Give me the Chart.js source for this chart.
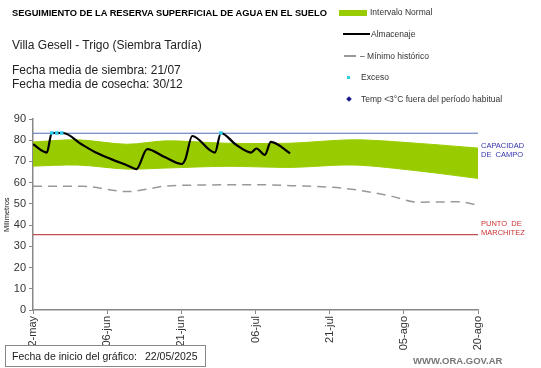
<!DOCTYPE html>
<html>
<head>
<meta charset="utf-8">
<script src="https://cdn.jsdelivr.net/npm/chart.js@4"></script>
<style>
  body { margin: 0; background: #fff; }
  #wrap { position: relative; width: 541px; height: 368px; font-family: "Liberation Sans", Arial, sans-serif; color: #222; }
  #wrap canvas { position: absolute; left: 0; top: 0; }
  .t { position: absolute; white-space: nowrap; }
</style>
</head>
<body>
<div id="wrap">
  <canvas id="chart" width="541" height="368"></canvas>
  <div class="t" style="left:12px;top:8px;font-size:9.3px;font-weight:bold;color:#000;">SEGUIMIENTO DE LA RESERVA SUPERFICIAL DE AGUA EN EL SUELO</div>
  <div class="t" style="left:12px;top:38px;font-size:12px;">Villa Gesell - Trigo (Siembra Tardía)</div>
  <div class="t" style="left:12px;top:63px;font-size:12px;line-height:14px;">Fecha media de siembra: 21/07<br>Fecha media de cosecha: 30/12</div>

  <div class="t" style="left:339px;top:10px;width:28px;height:6px;background:#99cc00;"></div>
  <div class="t" style="left:370px;top:7px;font-size:8.5px;color:#333;">Intervalo Normal</div>
  <div class="t" style="left:343px;top:33px;width:27px;height:2px;background:#000;"></div>
  <div class="t" style="left:371px;top:29px;font-size:8.5px;color:#333;">Almacenaje</div>
  <div class="t" style="left:344px;top:55px;width:12px;height:1.5px;background:#999;"></div>
  <div class="t" style="left:360px;top:51px;font-size:8.5px;color:#333;">– Mínimo histórico</div>
  <div class="t" style="left:347px;top:76px;width:3px;height:3px;background:#33ccdd;"></div>
  <div class="t" style="left:361px;top:72px;font-size:8.5px;color:#333;">Exceso</div>
  <div class="t" style="left:347px;top:97px;width:4px;height:4px;background:#1a1a8c;transform:rotate(45deg);"></div>
  <div class="t" style="left:361px;top:94px;font-size:8.5px;color:#333;">Temp &lt;3°C fuera del período habitual</div>

  <div class="t" style="left:481px;top:141px;font-size:7.5px;line-height:9px;color:#3333aa;">CAPACIDAD<br>DE&nbsp; CAMPO</div>
  <div class="t" style="left:481px;top:219px;font-size:7.5px;line-height:9px;color:#cc3333;">PUNTO&nbsp; DE<br>MARCHITEZ</div>

  <div class="t" style="left:2px;top:232px;font-size:7.5px;color:#222;transform:rotate(-90deg);transform-origin:left top;">Milímetros</div>

  <div class="t" style="left:5px;top:345px;width:199px;height:20px;border:1px solid #888;background:#fff;font-size:10.5px;line-height:20px;">
    <span style="position:absolute;left:6px;">Fecha de inicio del gráfico:</span>
    <span style="position:absolute;left:139px;">22/05/2025</span>
  </div>
  <div class="t" style="left:413px;top:355px;font-size:9.5px;font-weight:bold;color:#777;">WWW.ORA.GOV.AR</div>
</div>
<script>
// Days since 22/05/2025
const xTickLabels = ['22-may', '06-jun', '21-jun', '06-jul', '21-jul', '05-ago', '20-ago'];

const bandDays = [0, 9, 19, 27, 39, 52, 65, 78, 90];
const bandUpper = [79.2, 80.2, 78.1, 79.7, 78.6, 78.6, 80.2, 78.5, 76.3];
const bandLower = [67.8, 68.3, 66.4, 66.9, 67.7, 67.2, 68.3, 65.5, 62];

const minDays = [0, 10, 19, 28, 46, 52, 63, 72, 78, 86, 90];
const minValues = [58.3, 58.3, 55.8, 58.6, 59, 58.6, 57.3, 53.9, 50.8, 51, 49.5];

const storageDays = [0, 2.8, 3.8, 6.1, 9.8, 12.5, 15.8, 19.2, 20.9, 23.1, 26.5, 30.1, 30.8, 32.2, 36.8, 38, 41, 44.1, 45.2, 46.9, 48.1, 52];
const storageValues = [78.1, 74.2, 83.4, 83.4, 78.1, 74.5, 71.1, 68, 66.4, 75.8, 72.2, 68.8, 71, 82, 74.2, 83.4, 78, 74.2, 76.1, 73.1, 79.2, 73.8];

const excessDays = [3.8, 4.8, 5.8, 38];
const excessValues = [83.4, 83.4, 83.4, 83.4];

const fieldCapacity = 83.3;
const wiltingPoint = 35.5;

const pts = (xs, ys) => xs.map((x, i) => ({ x: x, y: ys[i] }));

new Chart(document.getElementById('chart'), {
  type: 'line',
  data: {
    datasets: [
      { data: pts(excessDays, excessValues), showLine: false, pointRadius: 2.5, pointStyle: 'rect',
        pointBackgroundColor: '#33ccee', pointBorderWidth: 0 },
      { data: pts(storageDays, storageValues), borderColor: '#000', borderWidth: 2.2, pointRadius: 0,
        cubicInterpolationMode: 'monotone' },
      { data: pts([0, 90], [fieldCapacity, fieldCapacity]), borderColor: '#4f6fb5', borderWidth: 1, pointRadius: 0 },
      { data: pts([0, 90], [wiltingPoint, wiltingPoint]), borderColor: '#c0504d', borderWidth: 1.2, pointRadius: 0 },
      { data: pts(minDays, minValues), borderColor: '#999', borderWidth: 1.5, borderDash: [9, 6], pointRadius: 0,
        cubicInterpolationMode: 'monotone' },
      { data: pts(bandDays, bandUpper), borderColor: '#99cc00', borderWidth: 1, pointRadius: 0,
        backgroundColor: '#99cc00', fill: '+1', tension: 0.3 },
      { data: pts(bandDays, bandLower), borderColor: '#99cc00', borderWidth: 1, pointRadius: 0, tension: 0.3 }
    ]
  },
  options: {
    responsive: false,
    animation: false,
    layout: { padding: { left: 0, right: 63, top: 119, bottom: 0 } },
    plugins: { legend: { display: false }, tooltip: { enabled: false } },
    scales: {
      x: {
        type: 'linear', min: 0, max: 90,
        afterFit: (s) => { s.height = 58; },
        afterBuildTicks: (s) => { s.ticks = [0, 15, 30, 45, 60, 75, 90].map(v => ({ value: v })); },
        ticks: {
          callback: (v) => xTickLabels[v / 15],
          maxRotation: 90, minRotation: 90, padding: 2,
          color: '#333', font: { family: 'Liberation Sans', size: 11 }
        },
        grid: { drawOnChartArea: false, tickLength: 4, color: '#888' },
        border: { color: '#888', width: 1.5 }
      },
      y: {
        min: 0, max: 90,
        afterFit: (s) => { s.width = 33; },
        ticks: { stepSize: 10, padding: 3, color: '#333', font: { family: 'Liberation Sans', size: 11 } },
        grid: { drawOnChartArea: false, tickLength: 4, color: '#888' },
        border: { color: '#888', width: 1.5 }
      }
    }
  }
});
</script>
</body>
</html>
